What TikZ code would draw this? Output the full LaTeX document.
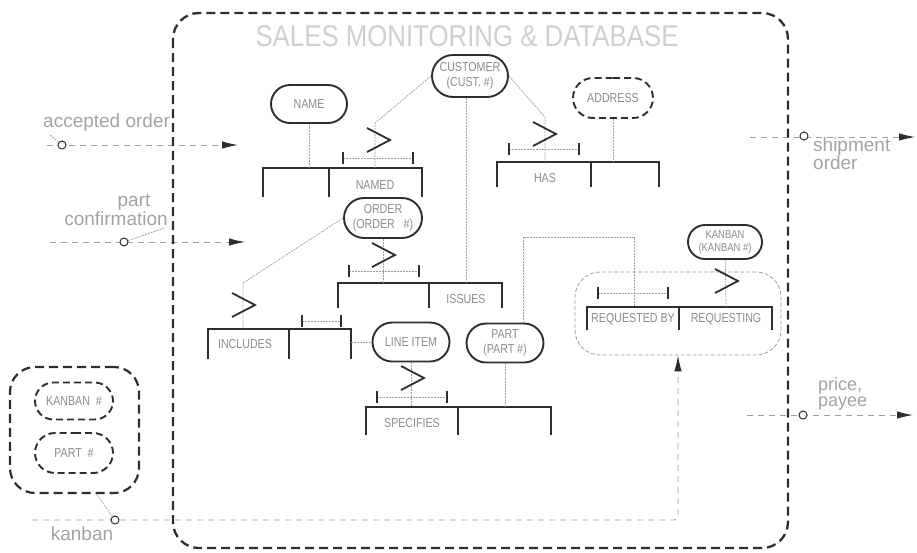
\documentclass[tikz,border=0pt]{standalone}
\usepackage{fontspec}
\setmainfont{Liberation Sans}
\newfontfamily\cadfont{Liberation Sans}[FakeStretch=0.82]
\newfontfamily\titlefont{Liberation Sans}[FakeStretch=0.86]
\usetikzlibrary{shapes.misc,arrows.meta}

\definecolor{ink}{gray}{0.18}
\definecolor{faint}{gray}{0.62}
\definecolor{labelgray}{gray}{0.55}
\definecolor{notegray}{gray}{0.64}

\tikzset{
  entity/.style={rounded rectangle, draw=ink, line width=1.9pt, inner sep=0pt,
    minimum width=76pt, minimum height=40pt, align=center, text=labelgray,
    font=\cadfont\fontsize{13}{15.5}\selectfont},
  optentity/.style={entity, dash pattern=on 7pt off 4pt},
  rel/.style={draw=ink, line width=1.8pt},
  link/.style={draw=faint, line width=0.7pt, dash pattern=on 2pt off 1pt},
  flow/.style={draw=faint, line width=0.9pt, dash pattern=on 6pt off 5pt},
  tip/.style={-{Latex[length=16pt,width=7.5pt,color=ink]}},
  boundary/.style={draw=ink, line width=2.3pt, dash pattern=on 9pt off 5pt, rounded corners=26pt},
  tag/.style={text=labelgray, font=\cadfont\fontsize{13}{15}\selectfont, inner sep=0pt},
  note/.style={text=notegray, font=\fontsize{19}{16}\selectfont, inner sep=0pt},
  port/.style={circle, draw=ink, line width=1pt, minimum size=8pt, inner sep=0pt, fill=white},
}

% crow's foot "many" mark centred at (x,y)
\newcommand{\crowfoot}[2]{\draw[rel] (#1-11,#2-12) -- (#1+12,#2) -- (#1-11,#2+12);}
% cardinality span bar from x1 to x2 at height y
\newcommand{\spanbar}[3]{\draw[link] (#1,#3) -- (#2,#3);
  \draw[ink, line width=1.3pt] (#1,#3-6) -- (#1,#3+6) (#2,#3-6) -- (#2,#3+6);}

\begin{document}
\begin{tikzpicture}[x=1pt,y=-1pt]
\useasboundingbox (0,0) rectangle (917,552);

% ---------- outside flows ----------
\coordinate (aoIn) at (47,145);   \coordinate (aoOut) at (238,145);
\coordinate (pcIn) at (50,242);   \coordinate (pcOut) at (245,242);
\coordinate (soIn) at (750,137);  \coordinate (soOut) at (915,137);
\coordinate (ppIn) at (747,415);  \coordinate (ppOut) at (913,415);
\coordinate (kbIn) at (32,520);

\node[rectangle, draw=faint, line width=0.8pt, dash pattern=on 4pt off 2pt,
      rounded corners=25pt, minimum width=206pt, minimum height=83pt] (reqgroup) at (678,313.5) {};

\draw[flow,tip] (aoIn) -- (aoOut);
\draw[flow,tip] (pcIn) -- (pcOut);
\draw[flow,tip] (soIn) -- (soOut);
\draw[flow,tip] (ppIn) -- (ppOut);
\draw[flow,tip,rounded corners=4pt] (kbIn) -| (reqgroup.south);

\node[note, anchor=west] (aoText) at (43,123) {accepted order};
\node[note] (pcText1) at (134,202) {part};
\node[note] (pcText2) at (116,219) {confirmation};
\node[note, anchor=west] (soText1) at (813,147) {shipment};
\node[note, anchor=west] (soText2) at (813,163) {order};
\node[note, anchor=west, font=\fontsize{18}{16}\selectfont] (ppText1) at (818,386) {price,};
\node[note, anchor=west, font=\fontsize{18}{16}\selectfont] (ppText2) at (818,404) {payee};
\node[note] (kbText) at (82,534) {kanban};

\node[port] (aoPort) at (62,145) {};
\node[port] (pcPort) at (124,242) {};
\node[port] (soPort) at (804,136) {};
\node[port] (ppPort) at (803,415) {};
\node[port] (kbPort) at (115,520) {};

\draw[link] (aoPort) -- ([xshift=6pt,yshift=-2pt]aoText.south west);
\draw[link] (pcPort) -- ([xshift=-4pt,yshift=-2pt]pcText2.south east);

% ---------- kanban card ----------
\node[rectangle, draw=ink, line width=2.2pt, dash pattern=on 9pt off 5pt, rounded corners=25pt,
      minimum width=129pt, minimum height=126pt] (kgroup) at (74.5,430) {};
\node[optentity, minimum width=78pt, minimum height=37pt] (kbNum) at (74,401) {KANBAN\ \ \#};
\node[optentity, minimum width=78pt, minimum height=40pt] (ptNum) at (74,453) {PART\ \ \#};
\draw[link] (kbPort) -- ([xshift=22pt]kgroup.south);

% ---------- system boundary ----------
\draw[boundary] (173,13) rectangle (788,548);
\node[text=gray!38, inner sep=0pt, font=\titlefont\fontsize{30}{30}\selectfont] (title) at (467,36)
  {SALES MONITORING \& DATABASE};

% ---------- entities ----------
\node[entity, minimum height=42pt] (cust) at (470,76) {CUSTOMER\\(CUST. \#)};
\node[entity, minimum height=38pt] (name) at (309,104) {NAME};
\node[optentity, minimum width=80pt] (addr) at (613,98) {ADDRESS};
\node[entity, minimum width=78pt] (order) at (383,218) {ORDER\\(ORDER\ \ \ \#)};
\node[entity, minimum width=77pt, minimum height=39pt] (line) at (411,342) {LINE ITEM};
\node[entity, minimum width=77pt, minimum height=39pt] (part) at (505,343) {PART\\(PART \#)};
\node[entity, minimum width=74pt, minimum height=34pt, font=\cadfont\fontsize{11.5}{13.5}\selectfont] (kanban) at (725,242) {KANBAN\\(KANBAN \#)};

% ---------- relationship tables ----------
% NAMED
\draw[rel] (263,197) -- (263,168) -- (422,168) -- (422,197) (329,168) -- (329,197);
\node[tag] (namedLbl) at (375,185) {NAMED};
\coordinate (namedA) at (309,168);
\coordinate (namedB) at (375,168);
\coordinate (namedK) at (375,123);
% HAS
\draw[rel] (497,187) -- (497,162) -- (659,162) -- (659,187) (591,162) -- (591,187);
\node[tag] (hasLbl) at (545,178) {HAS};
\coordinate (hasA) at (545,162);
\coordinate (hasK) at (545,117);
\coordinate (hasB) at (613,162);
% ISSUES
\draw[rel] (338,308) -- (338,283) -- (502,283) -- (502,308) (429,283) -- (429,308);
\node[tag] (issLbl) at (466,299) {ISSUES};
\coordinate (issA) at (383,283);
\coordinate (issB) at (466,283);
% INCLUDES
\draw[rel] (208,359) -- (208,329) -- (351,329) -- (351,359) (289,329) -- (289,359);
\node[tag] (incLbl) at (245,344) {INCLUDES};
\coordinate (incA) at (243,329);
\coordinate (incK) at (243,283);
\coordinate (incB) at (351,342);
% SPECIFIES
\draw[rel] (366,435) -- (366,407) -- (551,407) -- (551,435) (458,407) -- (458,435);
\node[tag] (specLbl) at (412,423) {SPECIFIES};
\coordinate (specA) at (411,407);
\coordinate (specB) at (505,407);
% REQUESTED BY / REQUESTING
\draw[rel] (587,330) -- (587,307) -- (772,307) -- (772,330) (679,307) -- (679,330);
\node[tag] (reqbyLbl) at (633,319) {REQUESTED BY};
\node[tag] (reqLbl) at (726,319) {REQUESTING};
\coordinate (reqA) at (634,307);
\coordinate (reqK) at (634,237);
\coordinate (partK) at (523,237);
\coordinate (reqB) at (726,307);

% ---------- connectors ----------
\draw[link] (name) -- (namedA);
\draw[link] (cust.west) -- (namedK) -- (namedB);
\draw[link] (cust.east) -- (hasK) -- (hasA);
\draw[link] (addr) -- (hasB);
\draw[link] (cust.south -| issB) -- (issB);
\draw[link] (order) -- (issA);
\draw[link] (order.west) -- (incK) -- (incA);
\draw[link] (incB) -- (line.west);
\draw[link] (line) -- (specA);
\draw[link] (part) -- (specB);
\draw[link] (part.north -| partK) -- (partK) -- (reqK) -- (reqA);
\draw[link] (kanban) -- (reqB);

% ---------- cardinality marks ----------
\crowfoot{378}{140}
\crowfoot{544}{134}
\crowfoot{383}{255}
\crowfoot{243}{305}
\crowfoot{412}{378}
\crowfoot{726}{281}
\spanbar{343}{413}{158}
\spanbar{509}{579}{149}
\spanbar{349}{419}{271}
\spanbar{302}{341}{321}
\spanbar{377}{447}{397}
\spanbar{598}{668}{293}

\end{tikzpicture}
\end{document}
